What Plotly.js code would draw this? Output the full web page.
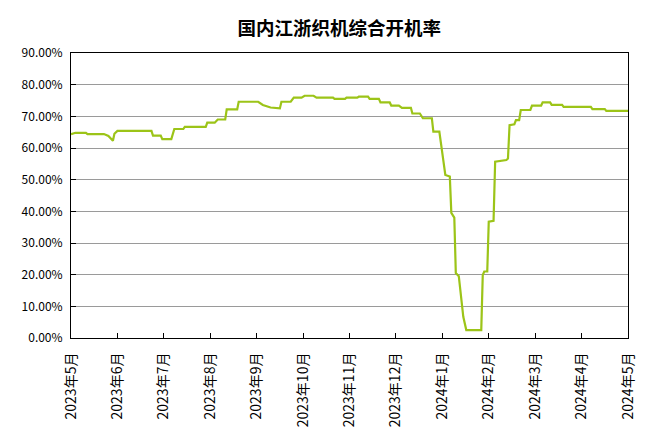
<!DOCTYPE html>
<html>
<head>
<meta charset="utf-8">
<script src="https://cdn.plot.ly/plotly-3.0.1.min.js"></script>
<style>html,body{margin:0;padding:0;background:#fff;}</style>
</head>
<body>
<div id="chart" style="width:655px;height:441px;"></div>
<script>
// Observation dates (change points of the series)
const dates = [
  '2023-05-01','2023-05-04','2023-05-11','2023-05-12','2023-05-23','2023-05-26','2023-05-29','2023-05-30',
  '2023-06-01','2023-06-23','2023-06-24','2023-06-29','2023-06-30','2023-07-06','2023-07-08','2023-07-14',
  '2023-07-15','2023-07-29','2023-07-30','2023-08-04','2023-08-06','2023-08-11','2023-08-12','2023-08-19',
  '2023-08-20','2023-09-02','2023-09-05','2023-09-10','2023-09-16','2023-09-17','2023-09-23','2023-09-25',
  '2023-09-30','2023-10-02','2023-10-08','2023-10-10','2023-10-21','2023-10-22','2023-10-29','2023-10-30',
  '2023-11-06','2023-11-07','2023-11-13','2023-11-14','2023-11-20','2023-11-21','2023-11-27','2023-11-28',
  '2023-12-03','2023-12-05','2023-12-11','2023-12-12','2023-12-17','2023-12-19','2023-12-25','2023-12-26',
  '2023-12-30','2024-01-03','2024-01-06','2024-01-07','2024-01-09','2024-01-10','2024-01-12','2024-01-15',
  '2024-01-17','2024-01-27','2024-01-28','2024-01-29','2024-01-31','2024-02-01','2024-02-04','2024-02-05',
  '2024-02-12','2024-02-13','2024-02-14','2024-02-17','2024-02-18','2024-02-20','2024-02-21','2024-02-27',
  '2024-02-28','2024-03-05','2024-03-06','2024-03-11','2024-03-12','2024-03-19','2024-03-20','2024-04-07',
  '2024-04-08','2024-04-16','2024-04-17','2024-05-01'
];
// 开机率 (%)
const rates = [
  64.4,64.8,64.8,64.4,64.4,63.8,62.3,64.5,
  65.4,65.4,63.9,63.9,62.8,62.8,66.0,66.0,
  66.7,66.7,68.0,68.0,69.0,69.0,72.2,72.2,
  74.6,74.6,73.6,72.8,72.5,74.6,74.6,75.9,
  75.9,76.5,76.5,75.9,75.9,75.5,75.5,75.9,
  75.9,76.2,76.2,75.5,75.5,74.4,74.4,73.4,
  73.4,72.7,72.7,70.9,70.9,69.4,69.4,65.2,
  65.2,51.5,51.0,39.5,38.0,20.5,19.5,6.7,
  2.5,2.5,19.9,21.0,21.0,36.7,37.0,55.7,
  56.2,56.7,67.2,67.5,68.8,68.8,72.0,72.0,
  73.4,73.4,74.4,74.4,73.6,73.6,73.0,73.0,
  72.3,72.3,71.7,71.7
];
// Month tick labels
const tickLabels = ['2023年5月','2023年6月','2023年7月','2023年8月','2023年9月','2023年10月',
  '2023年11月','2023年12月','2024年1月','2024年2月','2024年3月','2024年4月','2024年5月'];
const yTicks = [0,10,20,30,40,50,60,70,80,90];

// month-based axis position (each month equal width, as in the original chart)
function monthPos(s){
  const [y,m,d] = s.split('-').map(Number);
  const dim = new Date(y, m, 0).getDate();
  return (y-2023)*12 + (m-5) + (d-1)/dim;
}
const xs = dates.map(monthPos);
const tickVals = tickLabels.map((_,i)=>i);

const font = "'Noto Sans CJK SC', 'DejaVu Sans', sans-serif";
const trace = {
  x: xs, y: rates, type: 'scatter', mode: 'lines',
  line: {color: '#9cc418', width: 2.2, shape: 'linear'},
  hoverinfo: 'skip'
};
const layout = {
  width: 655, height: 441,
  margin: {l: 71, r: 27, t: 53, b: 103, pad: 0},
  paper_bgcolor: '#ffffff', plot_bgcolor: '#ffffff',
  showlegend: false,
  title: {text: '国内江浙织机综合开机率', x: 0.518, xanchor: 'center', y: 0.936, yanchor: 'middle',
    yref: 'container', xref: 'container',
    font: {family: font, size: 18.5, color: '#000', weight: 'bold'}},
  xaxis: {
    range: [0, 12], tickvals: tickVals, ticktext: tickLabels, tickangle: -90,
    showgrid: false, zeroline: false, showline: true, linecolor: '#000', linewidth: 1, mirror: true,
    ticks: 'inside', ticklen: 5, tickcolor: '#000', ticklabelstandoff: 8,
    tickfont: {family: font, size: 14, color: '#000'}, fixedrange: true
  },
  yaxis: {
    range: [0, 90], tickvals: yTicks, ticktext: yTicks.map(v=>v.toFixed(2)+'%'),
    showgrid: true, gridcolor: '#9a9a9a', gridwidth: 1, zeroline: false,
    showline: true, linecolor: '#000', linewidth: 1, mirror: true,
    ticks: 'inside', ticklen: 5, tickcolor: '#000', ticklabelstandoff: 5,
    tickfont: {family: font, size: 12, color: '#000'}, fixedrange: true
  }
};
Plotly.newPlot('chart', [trace], layout, {displayModeBar: false, staticPlot: true});
</script>
</body>
</html>
